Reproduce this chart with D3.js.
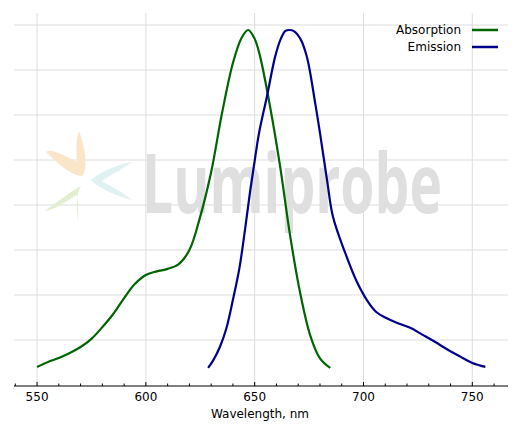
<!DOCTYPE html>
<html><head><meta charset="utf-8">
<script src="https://cdn.jsdelivr.net/npm/d3@7"></script>
<style>body{margin:0;background:#fff}</style></head>
<body><svg id="c" width="520" height="433"></svg>
<script>
const absNm = [550,555,560,565,570,575,580,585,590,595,600,605,610,615,620,625,630,635,640,644,647,650,652.5,657.1,661.7,666.3,670.9,675.5,680,684.7];
const absVal = [0.051,0.065,0.076,0.09,0.107,0.13,0.163,0.2,0.245,0.285,0.31,0.32,0.327,0.34,0.38,0.475,0.6,0.766,0.907,0.978,1.0,0.975,0.925,0.783,0.615,0.42,0.259,0.14,0.075,0.048];
const emNm = [628.6,631,634,637,640,643,645.6,648,650.2,652,655.7,659.4,662,664,666,668,671,674,677.8,680,683.3,686,691.6,697,702,706,710,715,721.5,727,733,738,744.5,750,756];
const emVal = [0.048,0.07,0.107,0.16,0.24,0.33,0.44,0.55,0.64,0.71,0.815,0.925,0.975,0.997,1.0,0.997,0.975,0.924,0.794,0.71,0.575,0.473,0.372,0.29,0.235,0.205,0.19,0.176,0.161,0.142,0.121,0.102,0.08,0.062,0.051];
const xTicks = [550,600,650,700,750];
const legendLabels = ["Absorption","Emission"];
const colors = ["#006400","#00008b"];

const svg = d3.select("#c");
const x = d3.scaleLinear().domain([539.4,766.4]).range([14,508]);
const y = d3.scaleLinear().domain([0,1]).range([385,30]);
const gridStep = 45/355;
const grid = d3.range(1,9).map(i=>i*gridStep);

svg.append("g").selectAll("line").data(grid).join("line")
  .attr("x1",14).attr("x2",508).attr("y1",d=>y(d)).attr("y2",d=>y(d))
  .attr("stroke","#ddd").attr("stroke-width",1);
svg.append("g").selectAll("line").data(xTicks).join("line")
  .attr("x1",d=>x(d)).attr("x2",d=>x(d)).attr("y1",13).attr("y2",386)
  .attr("stroke","#ddd").attr("stroke-width",1);

// watermark logo
const logo = svg.append("g");
logo.append("text").attr("x",142).attr("y",213).text("Lumiprobe")
  .attr("font-family","Open Sans, DejaVu Sans, sans-serif").attr("font-size",82).attr("font-weight","bold")
  .attr("textLength",300).attr("lengthAdjust","spacingAndGlyphs")
  .attr("fill","#dfdfdf");
logo.append("path").attr("d","M79,131 C86,150 88,170 82,176 C72,176 56,162 46,152 C50,148 62,154 77,162 C76,150 76,138 79,131Z").attr("fill","#fbe5c8");
logo.append("path").attr("d","M80,229 C76,212 75,196 81,186 C73,190 57,202 45,211 C55,210 68,200 77,195 C79,208 77,220 80,229Z").attr("fill","#e2eecf");
logo.append("path").attr("d","M132,162 C118,164 100,172 91,180 C98,188 116,196 132,200 C124,193 110,186 102,181 C112,174 124,168 132,162Z").attr("fill","#dff1f1");

svg.append("line").attr("x1",14).attr("x2",508).attr("y1",386).attr("y2",386).attr("stroke","#000");
const minor = d3.range(540,770,10);
svg.append("g").selectAll("line").data(minor).join("line")
  .attr("x1",d=>x(d)).attr("x2",d=>x(d)).attr("y1",386).attr("y2",d=>xTicks.includes(d)?382:383.5)
  .attr("stroke","#000");
svg.append("g").selectAll("text").data(xTicks).join("text")
  .attr("x",d=>x(d)).attr("y",401).attr("text-anchor","middle")
  .attr("font-family","DejaVu Sans, sans-serif").attr("font-size",12).text(d=>d);
svg.append("text").attr("x",260).attr("y",418).attr("text-anchor","middle")
  .attr("font-family","DejaVu Sans, sans-serif").attr("font-size",12).text("Wavelength, nm");

const line = d3.line().x(d=>x(d[0])).y(d=>y(d[1])).curve(d3.curveCatmullRom.alpha(0.5));
svg.append("path").datum(absNm.map((n,i)=>[n,absVal[i]])).attr("d",line)
  .attr("fill","none").attr("stroke",colors[0]).attr("stroke-width",2.2);
svg.append("path").datum(emNm.map((n,i)=>[n,emVal[i]])).attr("d",line)
  .attr("fill","none").attr("stroke",colors[1]).attr("stroke-width",2.2);

legendLabels.forEach((l,i)=>{
  const yy = 30 + i*17;
  svg.append("text").attr("x",461).attr("y",yy+4).attr("text-anchor","end")
    .attr("font-family","DejaVu Sans, sans-serif").attr("font-size",12).text(l);
  svg.append("line").attr("x1",472).attr("x2",498).attr("y1",yy).attr("y2",yy)
    .attr("stroke",colors[i]).attr("stroke-width",2.5);
});
</script></body></html>
